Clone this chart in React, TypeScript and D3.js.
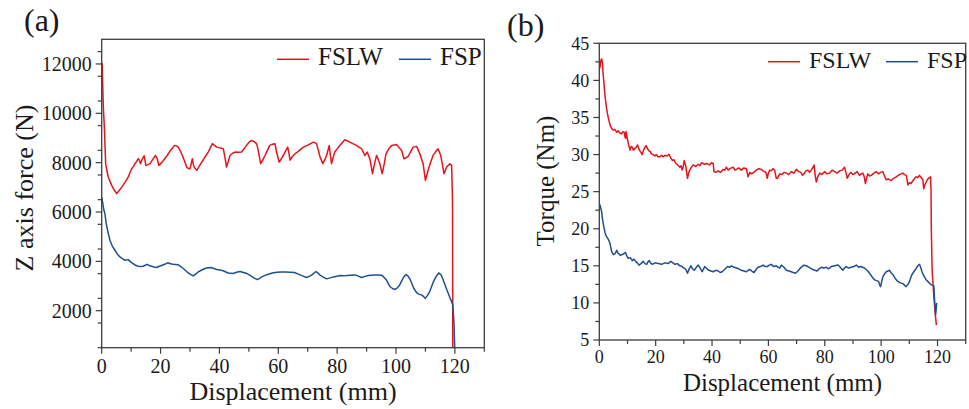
import React from "react";
import * as d3 from "d3";

// ---------- DATA ----------
const seriesNames = ["FSLW", "FSP"];
const xTicks = [0, 20, 40, 60, 80, 100, 120];
const forceTicks = [2000, 4000, 6000, 8000, 10000, 12000];
const torqueTicks = [5, 10, 15, 20, 25, 30, 35, 40, 45];

// (a) Z axis force, FSLW
const forceFslwX = [0,0.2,0.4,0.55,0.9,1.35,1.8,2.25,2.8,3.4,4.2,5.1,5.8,6.8,7.9,9.05,9.6,10.2,10.8,11.3,11.9,12.4,12.8,13.2,13.8,14.4,14.7,15.0,15.7,16.4,17.3,18.3,18.9,19.4,20.4,21.4,22.3,23.2,24.0,24.7,25.4,26.0,26.7,27.4,28.2,28.9,29.5,30.0,30.4,30.8,31.1,31.4,31.8,32.3,33.1,34.0,35.1,36.2,36.9,37.6,38.3,39.1,40.2,41.3,41.9,42.4,43.0,43.6,44.5,45.3,46.4,47.5,48.3,49.2,50.0,50.9,51.8,52.6,53.0,53.4,54.0,54.7,55.5,56.3,57.1,58.0,58.9,59.4,60.3,61.0,61.7,62.5,63.2,63.6,64.0,64.8,65.7,67.0,68.5,70.2,71.9,72.5,73.0,73.6,74.2,75.1,75.8,76.4,76.9,77.3,77.7,78.1,78.6,79.2,80.0,80.9,81.8,82.6,83.5,84.3,85.5,86.6,87.5,88.3,88.9,89.4,90.2,91.1,91.6,92.0,92.7,93.4,94.0,94.5,95.3,96.0,96.6,97.5,98.5,99.4,100.2,101.0,101.9,102.7,103.4,104.1,105.0,105.8,107.0,107.6,108.1,109.2,110.0,110.9,111.7,112.6,113.5,114.3,115.2,115.8,116.3,117.2,118.3,118.9,119.2,119.3];
const forceFslw = [12050,12000,10900,10250,9440,7960,7650,7420,7250,7080,6900,6745,6850,7010,7200,7420,7600,7755,7850,7960,8050,8160,8100,7960,8150,8280,8100,7890,7920,7960,8120,8290,8150,7890,8000,8160,8300,8470,8580,8700,8680,8630,8480,8290,8050,7820,7760,7755,7950,8160,7950,7820,7750,7690,7850,8025,8230,8430,8600,8770,8700,8630,8600,8565,8200,7820,8050,8290,8380,8430,8420,8430,8550,8700,8820,8900,8850,8770,8600,8360,7960,8100,8290,8500,8700,8750,8770,8430,8025,8150,8290,8480,8630,8400,8100,8250,8360,8480,8630,8720,8830,8800,8770,8500,8230,7960,8120,8290,8500,8700,8300,7960,8200,8430,8560,8700,8820,8930,8880,8830,8760,8700,8620,8565,8420,8290,8430,8160,7850,7554,7950,8294,8120,7958,7554,7950,8360,8550,8698,8720,8740,8620,8490,8160,8200,8250,8450,8630,8660,8500,8360,7958,7283,7690,8000,8294,8450,8564,8294,7900,7554,7821,7958,7890,6475,0];

// (a) Z axis force, FSP
const forceFspX = [0,0.3,0.7,1.1,1.5,2.0,2.8,3.6,4.5,5.3,6.2,7.0,7.9,9.0,9.8,10.7,11.5,12.4,13.2,14.1,14.8,15.5,16.2,16.9,17.8,18.6,19.4,20.3,21.4,22.4,23.4,24.3,25.1,26.0,26.9,27.7,28.6,29.4,30.3,31.1,32.0,32.8,34.0,35.1,36.1,37.1,38.1,39.1,40.2,41.3,42.2,43.0,44.7,45.8,47.0,48.2,49.3,50.3,51.2,52.0,52.9,53.6,54.4,55.5,56.6,58.0,59.5,61.0,62.3,64.0,65.5,66.8,68.2,69.6,70.5,71.3,72.8,73.5,74.2,75.3,76.4,77.6,78.7,80.0,81.0,82.1,83.2,84.6,86.1,87.2,88.3,89.5,90.6,91.7,92.9,94.0,95.1,95.9,96.6,97.3,98.0,98.8,99.7,100.5,101.2,101.9,102.5,103.4,104.1,104.8,105.4,105.9,106.6,107.3,108.0,108.8,109.4,109.9,110.6,111.4,112.0,112.7,113.6,114.5,115.4,116.0,116.7,117.5,118.4,119.3,119.7,120.0];
const forceFsp = [6600,6400,6100,5930,5550,5260,4855,4620,4450,4300,4180,4110,4045,4070,3980,3910,3840,3800,3790,3800,3840,3880,3830,3800,3770,3750,3790,3830,3880,3940,3900,3880,3870,3860,3790,3710,3620,3530,3460,3410,3490,3570,3650,3710,3740,3750,3710,3670,3650,3620,3570,3530,3510,3560,3590,3550,3510,3440,3370,3310,3260,3310,3370,3430,3480,3530,3560,3570,3570,3560,3550,3480,3410,3345,3390,3440,3590,3520,3440,3360,3290,3330,3370,3400,3425,3420,3425,3440,3450,3400,3345,3390,3425,3440,3450,3445,3440,3360,3265,3120,2970,2900,2860,2930,3035,3200,3345,3465,3400,3265,3100,2940,2800,2700,2660,2630,2570,2500,2600,2765,2950,3170,3380,3530,3440,3250,3035,2780,2500,2230,1485,300];

// (b) Torque, FSLW
const torqueFslwX = [0,0.25,0.5,0.84,1.1,1.4,1.7,2.0,2.3,2.6,3.0,3.4,3.9,4.4,5.0,5.5,6.2,6.7,7.3,7.9,8.4,8.9,9.1,9.3,9.5,9.8,10.3,10.6,10.9,11.3,11.7,12.1,12.6,13.1,13.6,14.0,14.4,14.8,15.2,15.7,16.2,16.6,17.1,17.6,18.1,18.5,19.1,19.7,20.2,20.8,21.5,22.1,22.7,23.3,24.0,24.7,25.3,25.9,26.5,27.0,27.8,28.6,29.0,29.4,29.8,30.1,30.6,31.0,31.3,31.7,32.1,32.7,33.3,34.2,35.1,35.7,36.3,37.2,38.1,39.0,39.8,40.4,40.7,41.4,42.2,43.0,43.9,44.5,45.1,45.7,46.3,46.9,47.5,48.1,48.7,49.5,50.4,51.3,52.2,52.5,52.8,53.4,54.0,54.8,55.7,56.6,57.5,58.1,58.7,59.2,59.6,60.0,60.5,61.0,61.6,62.2,62.8,63.2,63.6,64.0,64.8,65.6,66.4,67.2,68.1,69.0,69.9,70.7,71.5,72.1,72.6,73.3,74.0,74.6,75.2,75.7,76.2,76.6,77.0,77.6,78.2,79.0,79.9,80.8,81.7,82.6,83.5,84.4,85.3,86.2,87.0,87.5,88.0,88.6,89.2,90.0,90.8,91.5,92.3,92.9,93.5,94.0,94.4,94.9,95.3,95.9,96.5,97.4,98.3,99.0,99.8,100.6,101.2,101.8,102.7,103.6,104.4,105.3,106.5,107.7,108.3,108.9,109.5,110.0,110.6,111.5,112.4,113.0,113.6,114.2,114.8,115.1,115.5,116.0,116.4,116.8,117.5,117.7,117.8,118.1,118.7,119.3,119.6];
const torqueFslw = [41.5,41.8,42.6,42.9,42.3,40.7,39.4,38.0,37.0,36.2,35.3,34.6,33.9,33.5,33.3,33.4,33.0,33.2,32.9,32.8,33.1,33.0,32.4,32.2,33.1,32.4,31.5,31.0,30.6,31.1,31.0,30.6,30.8,31.0,31.3,30.8,30.5,30.3,30.0,30.6,31.0,31.2,30.8,30.5,30.4,30.1,30.0,29.8,30.0,29.7,29.7,29.9,29.7,29.9,29.8,30.05,29.6,29.2,29.3,28.9,28.6,28.3,28.5,27.9,28.4,29.2,28.6,27.6,26.8,27.5,27.9,28.3,28.6,28.4,28.7,28.5,28.9,28.7,28.8,28.6,28.9,28.8,27.7,27.6,27.8,27.6,28.0,27.9,28.3,27.9,28.1,28.2,28.3,27.9,28.0,28.2,27.9,28.2,28.1,27.5,27.0,27.6,27.4,27.6,27.9,28.1,28.0,27.8,27.7,27.5,26.8,27.5,27.9,27.8,28.1,27.9,26.8,26.8,27.1,27.4,27.3,27.6,27.5,27.3,27.7,27.5,28.0,27.7,27.6,27.2,27.4,27.8,27.9,27.6,27.9,28.2,28.6,27.2,26.3,27.1,27.5,27.3,27.7,27.4,27.5,27.9,27.7,27.5,27.8,27.9,28.3,27.6,26.8,27.3,27.6,27.3,27.5,27.7,27.2,27.4,27.5,27.0,26.1,26.9,27.4,27.1,27.2,27.5,27.7,27.4,27.6,27.7,27.1,26.6,26.7,26.5,26.8,27.0,27.3,27.5,27.3,27.2,25.9,26.2,26.1,26.6,27.0,26.9,27.2,26.9,26.6,25.4,25.9,26.3,26.6,26.8,27.0,25.2,19.8,14.4,10.8,8.1,7.0];

// (b) Torque, FSP
const torqueFspX = [0,0.25,0.5,0.84,1.1,1.4,2.0,2.5,3.0,3.4,3.8,4.4,5.0,5.5,6.2,6.6,7.0,7.5,7.9,8.6,9.3,9.8,10.3,11.0,11.7,12.3,12.9,13.5,14.1,14.8,15.6,16.2,16.8,17.2,17.7,18.2,18.8,19.8,20.9,22.1,23.3,24.4,25.4,26.1,26.8,27.7,28.6,29.4,30.1,30.7,31.3,31.9,32.5,33.1,33.7,34.4,35.1,35.8,36.5,37.0,37.4,38.2,38.9,39.6,40.4,41.3,42.2,42.9,43.6,44.5,45.5,46.2,46.9,47.8,48.7,49.5,50.4,51.3,52.2,52.8,53.4,54.1,54.9,55.6,56.3,57.2,58.1,58.8,59.6,60.3,61.0,61.9,62.8,63.4,64.0,64.6,65.5,66.4,67.3,68.1,68.8,69.6,70.2,70.7,71.6,72.6,73.3,74.0,74.9,75.8,76.5,77.3,78.0,78.8,79.6,80.5,81.4,82.3,83.5,84.7,85.5,86.4,87.0,87.6,88.5,89.4,90.3,91.2,92.0,92.7,93.4,94.1,95.0,95.9,96.8,97.7,98.4,99.1,99.5,99.8,100.2,100.6,101.2,101.8,102.4,103.0,103.6,104.2,105.0,105.9,106.8,107.7,108.3,108.9,109.5,110.1,110.5,110.9,111.6,112.2,112.8,113.2,113.6,114.0,114.5,115.2,116.0,116.8,117.5,118.1,118.7,118.9,119.3,119.5,119.7];
const torqueFsp = [23.2,23.2,22.8,22.3,21.4,20.7,19.5,19.0,18.7,18.4,18.0,16.9,16.5,16.6,17.1,16.7,16.6,16.4,16.5,16.6,16.8,16.3,16.0,16.1,15.7,15.9,15.6,15.4,15.1,15.3,15.6,15.3,15.2,15.5,15.7,15.4,15.2,15.4,15.3,15.2,15.4,15.3,15.6,15.4,15.2,15.3,15.0,14.9,14.7,14.5,14.0,14.6,15.0,14.6,14.4,14.8,15.1,14.7,14.2,14.6,14.9,14.6,14.4,14.3,14.2,14.4,14.3,14.1,14.2,14.5,14.9,14.8,15.0,14.8,14.7,14.6,14.4,14.3,14.2,14.4,14.5,14.3,14.1,14.5,14.8,14.9,15.1,14.9,14.9,15.1,15.2,14.9,15.0,14.8,14.7,15.1,14.8,14.4,14.3,14.2,14.1,14.0,14.2,14.4,14.8,15.1,15.0,14.9,14.7,14.5,14.4,14.3,14.6,14.8,14.7,14.8,14.6,14.9,15.0,15.1,14.8,14.4,14.7,14.9,14.7,14.8,14.9,15.1,14.8,14.9,14.8,14.7,14.4,14.0,13.5,13.1,13.0,12.9,12.4,12.2,12.9,13.5,13.9,14.2,14.3,14.4,14.0,13.8,13.3,12.9,12.7,12.6,12.4,12.2,12.5,12.9,13.4,13.8,14.2,14.5,14.9,15.1,15.2,14.8,14.2,13.6,13.1,12.8,12.5,12.4,12.3,10.8,8.4,9.0,10.0];

// ---------- STYLE ----------
const RED = "#e5131b";
const BLUE = "#1f4f8f";
const FRAME = "#3d3d3d";
const FONT = "'Liberation Serif', 'Times New Roman', serif";

type PanelProps = {
  id: string;
  left: number; right: number; top: number; bottom: number;
  yDomain: [number, number];
  yTicks: number[];
  yMinorStep: number;
  tickFont: number;
  titleFont: number;
  yTitle: string;
  yTitleX: number; yTitleY: number;
  xTitleY: number; xLabelY: number;
  panelLabel: string; panelX: number; panelY: number;
  legendY: number; legendTextY: number; legendX: number[]; legendFont: number;
  fslwX: number[]; fslwY: number[]; fspX: number[]; fspY: number[];
};

function Panel(p: PanelProps) {
  const x = d3.scaleLinear().domain([0, 130]).range([p.left, p.right]);
  const y = d3.scaleLinear().domain(p.yDomain).range([p.bottom, p.top]);
  const line = d3.line<[number, number]>().x((d) => x(d[0])).y((d) => y(d[1]));
  const zip = (xs: number[], ys: number[]) => xs.map((v, i) => [v, ys[i]] as [number, number]);
  const xMinor = d3.range(10, 131, 20);
  const yMinor = d3.range(p.yDomain[0], p.yDomain[1] + 0.001, p.yMinorStep).filter((v) => !p.yTicks.includes(v));
  const colors = [RED, BLUE];
  return (
    <g>
      <defs>
        <clipPath id={p.id}>
          <rect x={p.left} y={p.top} width={p.right - p.left} height={p.bottom - p.top} />
        </clipPath>
      </defs>
      <g clipPath={`url(#${p.id})`} fill="none" strokeWidth={1.5} strokeLinejoin="round">
        <path d={line(zip(p.fslwX, p.fslwY)) || ""} stroke={RED} />
        <path d={line(zip(p.fspX, p.fspY)) || ""} stroke={BLUE} />
      </g>
      <rect x={p.left} y={p.top} width={p.right - p.left} height={p.bottom - p.top} fill="none" stroke={FRAME} strokeWidth={1.3} />
      {xTicks.map((t) => (
        <g key={"xt" + t}>
          <line x1={x(t)} x2={x(t)} y1={p.bottom} y2={p.bottom + 6} stroke={FRAME} strokeWidth={1.2} />
          <text x={x(t)} y={p.xLabelY} textAnchor="middle" fontSize={p.tickFont} fill="#1a1a1a">{t}</text>
        </g>
      ))}
      {xMinor.map((t) => (
        <line key={"xm" + t} x1={x(t)} x2={x(t)} y1={p.bottom} y2={p.bottom + 4} stroke={FRAME} strokeWidth={1.2} />
      ))}
      {p.yTicks.map((t) => (
        <g key={"yt" + t}>
          <line x1={p.left - 6} x2={p.left} y1={y(t)} y2={y(t)} stroke={FRAME} strokeWidth={1.2} />
          <text x={p.left - 10} y={y(t)} dy="0.35em" textAnchor="end" fontSize={p.tickFont} fill="#1a1a1a">{t}</text>
        </g>
      ))}
      {yMinor.map((t) => (
        <line key={"ym" + t} x1={p.left - 4} x2={p.left} y1={y(t)} y2={y(t)} stroke={FRAME} strokeWidth={1.2} />
      ))}
      <text x={(p.left + p.right) / 2} y={p.xTitleY} textAnchor="middle" fontSize={p.titleFont} fill="#1a1a1a">Displacement (mm)</text>
      <text transform={`translate(${p.yTitleX},${p.yTitleY}) rotate(-90)`} textAnchor="middle" fontSize={p.titleFont} fill="#1a1a1a">{p.yTitle}</text>
      <text x={p.panelX} y={p.panelY} fontSize={32} fill="#1a1a1a">{p.panelLabel}</text>
      {seriesNames.map((name, i) => (
        <g key={name}>
          <line x1={p.legendX[i]} x2={p.legendX[i] + 32} y1={p.legendY} y2={p.legendY} stroke={colors[i]} strokeWidth={1.5} />
          <text x={p.legendX[i] + 41} y={p.legendTextY} fontSize={p.legendFont} fill="#1a1a1a">{name}</text>
        </g>
      ))}
    </g>
  );
}

export default function App() {
  return (
    <svg width={969} height={409} style={{ position: "fixed", left: 0, top: 0, background: "#fff" }} fontFamily={FONT}>
      <rect width={969} height={409} fill="#fff" />
      <Panel
        id="clipA" left={101.7} right={484.3} top={39.3} bottom={347.7}
        yDomain={[500, 13000]} yTicks={forceTicks} yMinorStep={1000}
        tickFont={20} titleFont={26} yTitle="Z axis force (N)" yTitleX={33} yTitleY={188}
        xTitleY={400} xLabelY={373}
        panelLabel="(a)" panelX={24} panelY={31}
        legendY={59.3} legendTextY={65} legendX={[277, 399]} legendFont={25}
        fslwX={forceFslwX} fslwY={forceFslw} fspX={forceFspX} fspY={forceFsp}
      />
      <Panel
        id="clipB" left={599.3} right={965.7} top={43.3} bottom={340}
        yDomain={[5, 45]} yTicks={torqueTicks} yMinorStep={2.5}
        tickFont={18} titleFont={25} yTitle="Torque (Nm)" yTitleX={554} yTitleY={181}
        xTitleY={391} xLabelY={363}
        panelLabel="(b)" panelX={507} panelY={36}
        legendY={61.7} legendTextY={68} legendX={[768, 886]} legendFont={24}
        fslwX={torqueFslwX} fslwY={torqueFslw} fspX={torqueFspX} fspY={torqueFsp}
      />
    </svg>
  );
}
